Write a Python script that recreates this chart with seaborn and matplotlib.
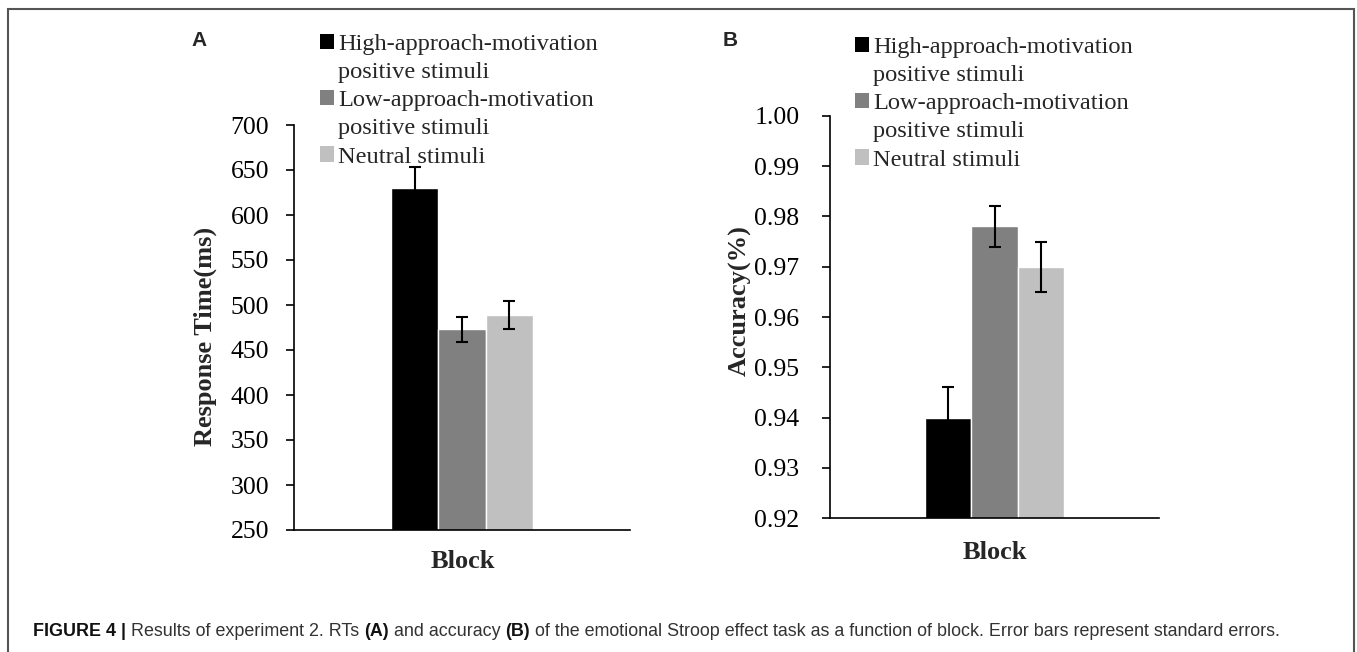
import pandas as pd
import matplotlib.pyplot as plt
import matplotlib.patches as mpatches
import seaborn as sns

# Data
conditions = ["High-approach-motivation positive stimuli",
              "Low-approach-motivation positive stimuli",
              "Neutral stimuli"]
legend_lines = [["High-approach-motivation", "positive stimuli"],
                ["Low-approach-motivation", "positive stimuli"],
                ["Neutral stimuli"]]
rt_mean = [630, 473, 489]
rt_se = [23, 14, 15.5]
acc_mean = [0.940, 0.978, 0.970]
acc_se = [0.006, 0.004, 0.005]
bar_colors = ["#000000", "#808080", "#c0c0c0"]

caption_parts = [
    ("FIGURE 4 |", "bold", "#111111"),
    ("Results of experiment 2. RTs", "normal", "#333333"),
    ("(A)", "bold", "#111111"),
    ("and accuracy", "normal", "#333333"),
    ("(B)", "bold", "#111111"),
    ("of the emotional Stroop effect task as a function of block. "
     "Error bars represent standard errors.", "normal", "#333333"),
]

sns.set_style("white")
plt.rcParams["font.family"] = ["Liberation Serif", "DejaVu Serif"]

W, H = 1357, 652
fig = plt.figure(figsize=(W / 100, H / 100), dpi=100)


def px_rect(left, top, right, bottom):
    return [left / W, 1 - bottom / H, (right - left) / W, (bottom - top) / H]


def draw_panel(ax, values, errors, ylabel, ylim, yticks, fmt, pad,
               ylab_xy, xlab_xy):
    df = pd.DataFrame({"block": ["Block"] * 3, "condition": conditions,
                       "value": values})
    sns.barplot(data=df, x="block", y="value", hue="condition",
                hue_order=conditions, palette=bar_colors, width=0.42,
                saturation=1, errorbar=None, legend=False, ax=ax)
    for cont, err in zip(ax.containers, errors):
        bar = cont[0]
        ax.errorbar(bar.get_x() + bar.get_width() / 2, bar.get_height(),
                    yerr=err, fmt="none", ecolor="black", elinewidth=1.5,
                    capsize=4.5, capthick=1.5, zorder=3)
    ax.set_ylim(*ylim)
    ax.set_yticks(yticks)
    ax.set_yticklabels([fmt.format(t) for t in yticks])
    ax.set_xticks([])
    ax.set_xlim(-0.5, 0.5)
    sns.despine(ax=ax)
    for s in ["left", "bottom"]:
        ax.spines[s].set_color("black")
        ax.spines[s].set_linewidth(1.2)
    ax.tick_params(axis="y", direction="out", length=6, width=1.2,
                   labelsize=18.5, pad=pad, left=True, colors="black")
    ax.set_ylabel(ylabel, fontsize=19, fontweight="bold", va="center")
    ax.yaxis.set_label_coords(*ylab_xy)
    ax.set_xlabel("Block", fontsize=19, fontweight="bold", va="center")
    ax.xaxis.set_label_coords(*xlab_xy)


def add_legend(x, y):
    handles, labels = [], []
    for color, lines in zip(bar_colors, legend_lines):
        handles.append(mpatches.Patch(facecolor=color, edgecolor="none"))
        labels.append(lines[0])
        for extra in lines[1:]:
            handles.append(mpatches.Patch(facecolor="none", edgecolor="none"))
            labels.append(extra)
    fig.legend(handles, labels, loc="upper left",
               bbox_to_anchor=(x / W, 1 - y / H), frameon=False,
               prop={"family": "Liberation Serif", "size": 17.6},
               handlelength=0.58, handleheight=0.58, handletextpad=0.16,
               labelspacing=0.28, borderpad=0, borderaxespad=0)


# Panel A
ax_a = fig.add_axes(px_rect(294, 125, 630, 530))
draw_panel(ax_a, rt_mean, rt_se, "Response Time(ms)", (250, 700),
           list(range(250, 701, 50)), "{:d}", 12,
           (-0.265, 0.477), (0.503, -0.079))
add_legend(320, 34)

# Panel B
ax_b = fig.add_axes(px_rect(830, 115.7, 1159, 518.3))
draw_panel(ax_b, acc_mean, acc_se, "Accuracy(%)", (0.92, 1.00),
           [0.92 + 0.01 * i for i in range(9)], "{:.2f}", 16,
           (-0.274, 0.542), (0.5015, -0.084))
add_legend(855, 37)

# Panel letters
for letter, x, y in [("A", 191, 41), ("B", 723, 40)]:
    fig.text(x / W, 1 - y / H, letter, family="Liberation Sans",
             fontweight="bold", fontsize=15, va="center", ha="left")

# Frame around the figure
fig.patches.append(mpatches.Rectangle((8 / W, -0.02), (1354 - 8) / W,
                                      1.02 - 9 / H, transform=fig.transFigure,
                                      fill=False, edgecolor="#555555",
                                      linewidth=1.5))

# Caption, written piece by piece
cap_size = 12.9
renderer = fig.canvas.get_renderer()
probe = fig.text(0, 0, "a a", family="Liberation Sans", fontsize=cap_size)
w1 = probe.get_window_extent(renderer).width
probe.set_text("aa")
space = w1 - probe.get_window_extent(renderer).width
probe.remove()
x = 33
for txt, weight, color in caption_parts:
    t = fig.text(x / W, 1 - 632 / H, txt, family="Liberation Sans",
                 fontsize=cap_size, fontweight=weight, color=color,
                 va="center", ha="left")
    x += t.get_window_extent(renderer).width + space

fig.savefig("out.png", dpi=100)
